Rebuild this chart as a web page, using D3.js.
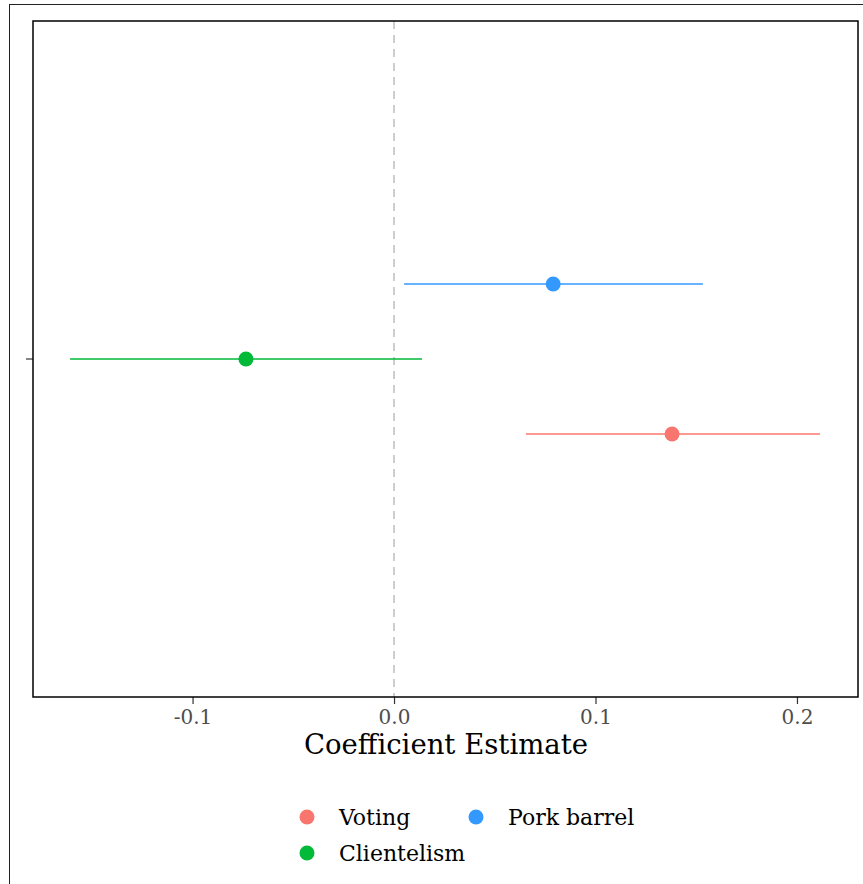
<!DOCTYPE html>
<html>
<head>
<meta charset="utf-8">
<script src="https://cdn.jsdelivr.net/npm/d3@7"></script>
<style>
  body { margin: 0; background: #fff; }
  svg text { font-family: "DejaVu Serif", serif; }
</style>
</head>
<body>
<svg id="chart" width="863" height="884"></svg>
<script>
// data
var models = ["Voting", "Pork barrel", "Clientelism"];
var estimates = [0.138, 0.079, -0.0735];
var lowers = [0.0655, 0.005, -0.1608];
var uppers = [0.2114, 0.1533, 0.0139];
var colors = ["#F8766D", "#3399FF", "#00BA38"];
var xTicks = [-0.1, 0.0, 0.1, 0.2];
var legendOrder = ["Voting", "Pork barrel", "Clientelism"];

var svg = d3.select("#chart"),
    margin = {top: 21, right: 5, bottom: 187, left: 33},
    width = 863 - margin.left - margin.right,
    height = 884 - margin.top - margin.bottom;

// outer frame
svg.append("rect")
    .attr("x", 9.5).attr("y", 4.5)
    .attr("width", 900).attr("height", 900)
    .attr("fill", "none").attr("stroke", "#222").attr("stroke-width", 1);

var g = svg.append("g").attr("transform", "translate(" + margin.left + "," + margin.top + ")");

var x = d3.scaleLinear().domain([-0.1792, 0.2303]).range([0, width]);
var y = d3.scaleBand().domain(["coef"]).range([0, height]);
// dodge within the single category
var dodge = d3.scalePoint().domain(["Pork barrel", "Clientelism", "Voting"]).range([-75, 75]);

var rows = models.map(function (m, i) {
    return {model: m, est: estimates[i], lo: lowers[i], hi: uppers[i], color: colors[i]};
});

// zero reference line
g.append("line")
    .attr("x1", x(0)).attr("x2", x(0))
    .attr("y1", 0).attr("y2", height)
    .attr("stroke", "#BEBEBE").attr("stroke-width", 1.5)
    .attr("stroke-dasharray", "8,6");

var cy = function (d) { return y("coef") + y.bandwidth() / 2 + dodge(d.model); };

g.selectAll(".ci")
    .data(rows)
    .enter().append("line")
    .attr("class", "ci")
    .attr("x1", function (d) { return x(d.lo); })
    .attr("x2", function (d) { return x(d.hi); })
    .attr("y1", cy).attr("y2", cy)
    .attr("stroke", function (d) { return d.color; })
    .attr("stroke-width", 1.5);

g.selectAll(".pt")
    .data(rows)
    .enter().append("circle")
    .attr("class", "pt")
    .attr("cx", function (d) { return x(d.est); })
    .attr("cy", cy)
    .attr("r", 7.5)
    .attr("fill", function (d) { return d.color; });

// x axis
var xAxis = g.append("g")
    .attr("transform", "translate(0," + height + ")")
    .call(d3.axisBottom(x).tickValues(xTicks).tickSize(7).tickPadding(6)
        .tickFormat(function (d) { return d3.format(".1f")(d).replace("\u2212", "-"); }));
xAxis.select(".domain").remove();
xAxis.selectAll(".tick line").attr("stroke", "#333").attr("stroke-width", 1.2);
xAxis.selectAll(".tick text").attr("fill", "#4D4D4D").style("font-size", "20px")
    .style("font-family", "'DejaVu Serif', serif");

// y axis tick only
var yAxis = g.append("g")
    .call(d3.axisLeft(y).tickSize(7).tickFormat(""));
yAxis.select(".domain").remove();
yAxis.selectAll(".tick line").attr("stroke", "#333").attr("stroke-width", 1.2);

// panel border
g.append("rect")
    .attr("x", 0).attr("y", 0)
    .attr("width", width).attr("height", height)
    .attr("fill", "none").attr("stroke", "#000").attr("stroke-width", 1.5);

// axis title
svg.append("text")
    .attr("x", 446).attr("y", 754)
    .attr("text-anchor", "middle")
    .style("font-size", "27.5px")
    .attr("fill", "#000")
    .text("Coefficient Estimate");

// legend
var legPos = [[307, 817], [476, 817], [307, 853]];
var leg = svg.selectAll(".leg")
    .data(legendOrder)
    .enter().append("g")
    .attr("class", "leg")
    .attr("transform", function (d, i) { return "translate(" + legPos[i][0] + "," + legPos[i][1] + ")"; });
leg.append("circle")
    .attr("r", 7.5)
    .attr("fill", function (d) { return colors[models.indexOf(d)]; });
leg.append("text")
    .attr("x", 32).attr("dy", "0.35em")
    .style("font-size", "22px")
    .attr("fill", "#000")
    .text(function (d) { return d; });
</script>
</body>
</html>
